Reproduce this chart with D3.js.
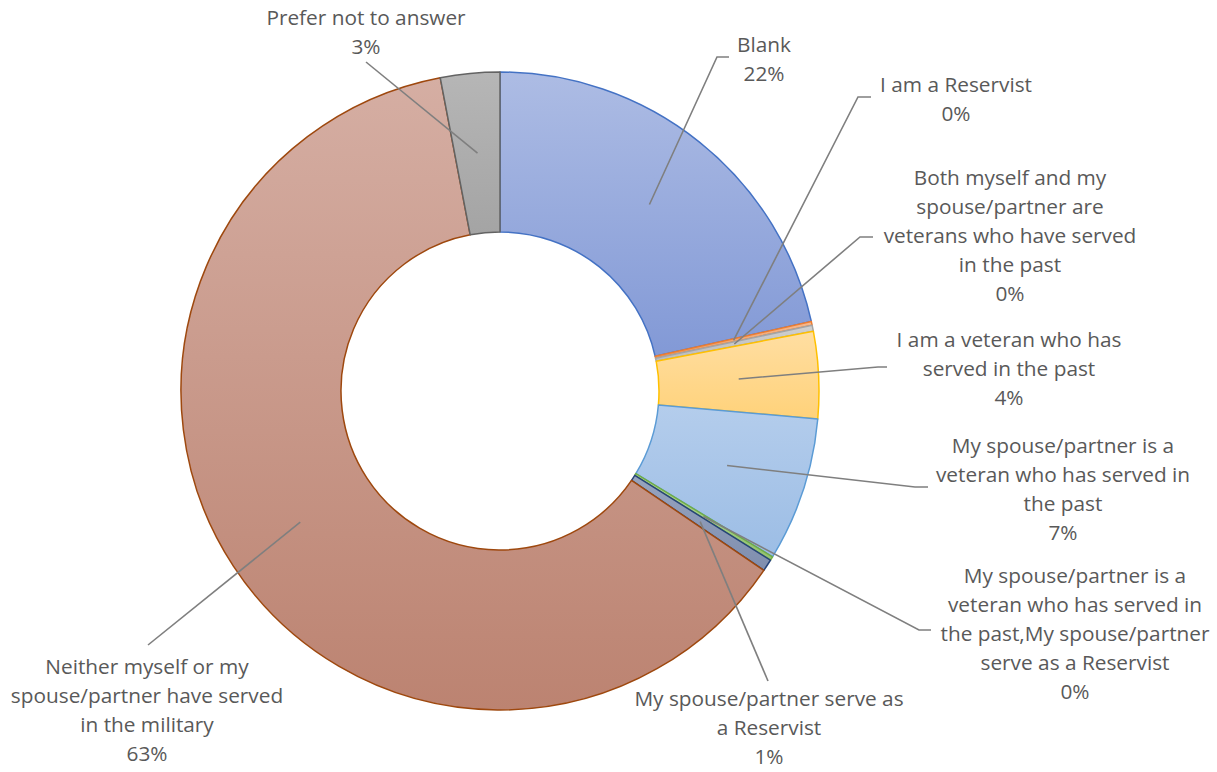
<!DOCTYPE html>
<html>
<head>
<meta charset="utf-8">
<script src="https://cdn.jsdelivr.net/npm/d3@7"></script>
<style>
  body { margin: 0; background: #fff; }
  svg { display: block; }
  text { font-family: "Open Sans", sans-serif; fill: #595959; }
</style>
</head>
<body>
<svg width="1217" height="772"></svg>
<script>
// categories in drawing order, clockwise from 12 o'clock
var categories = [
  "Blank",
  "I am a Reservist",
  "Both myself and my spouse/partner are veterans who have served in the past",
  "I am a veteran who has served in the past",
  "My spouse/partner is a veteran who has served in the past",
  "My spouse/partner is a veteran who has served in the past,My spouse/partner serve as a Reservist",
  "My spouse/partner serve as a Reservist",
  "Neither myself or my spouse/partner have served in the military",
  "Prefer not to answer"
];
// share of responses (percent)
var values = [21.5, 0.2, 0.3, 4.4, 7.3, 0.2, 0.6, 62.5, 3.0];

// label text broken the way the original wraps it
var labelLines = [
  ["Blank"],
  ["I am a Reservist"],
  ["Both myself and my", "spouse/partner are", "veterans who have served", "in the past"],
  ["I am a veteran who has", "served in the past"],
  ["My spouse/partner is a", "veteran who has served in", "the past"],
  ["My spouse/partner is a", "veteran who has served in", "the past,My spouse/partner", "serve as a Reservist"],
  ["My spouse/partner serve as", "a Reservist"],
  ["Neither myself or my", "spouse/partner have served", "in the military"],
  ["Prefer not to answer"]
];

// office palette: border colour, light fill, dark fill
var strokes = ["#4472c4", "#ed7d31", "#a5a5a5", "#ffc000", "#5b9bd5", "#70ad47", "#264478", "#9e480e", "#636363"];
var fillTop = ["#adbce4", "#f6b98f", "#d0d0d0", "#ffdea2", "#b4cdec", "#b3d69b", "#97a4bf", "#d5aea3", "#b6b6b6"];
var fillBot = ["#8299d6", "#ee9656", "#bcbcbc", "#ffd27a", "#9cbde5", "#93c26f", "#7f8eae", "#bc8371", "#a4a4a4"];

var svg = d3.select("svg");
var cx = 500, cy = 391, rOuter = 319, rInner = 159;

// label placement: x centre, first baseline, leader elbow, leader end
var labelPos = [
  { x: 764, y: 52, elbow: [717, 57], end: [729, 57] },
  { x: 956, y: 92, elbow: [858, 97], end: [871, 97] },
  { x: 1010, y: 185, elbow: [860, 237], end: [873, 237] },
  { x: 1009, y: 347, elbow: [878, 367], end: [887, 367] },
  { x: 1063, y: 453, elbow: [915, 487], end: [928, 487] },
  { x: 1075, y: 583, elbow: [919, 630], end: [931, 630] },
  { x: 769, y: 706, elbow: [768, 681], end: [768, 681] },
  { x: 147, y: 674, elbow: [148, 645], end: [148, 645] },
  { x: 366, y: 25, elbow: [366, 62], end: [366, 62] }
];
var lineH = 29;

var total = d3.sum(values);
var pie = d3.pie().sort(null).value(function (d) { return d; })
  .startAngle(0).endAngle(2 * Math.PI);
var arcs = pie(values);

var arc = d3.arc().innerRadius(rInner).outerRadius(rOuter);
var midArc = d3.arc().innerRadius((rInner + rOuter) / 2).outerRadius((rInner + rOuter) / 2);

var defs = svg.append("defs");
var grad = defs.selectAll("linearGradient")
  .data(arcs).enter()
  .append("linearGradient")
  .attr("id", function (d, i) { return "g" + i; })
  .attr("x1", 0).attr("y1", 0).attr("x2", 0).attr("y2", 1);
grad.append("stop").attr("offset", "0%").attr("stop-color", function (d, i) { return fillTop[i]; });
grad.append("stop").attr("offset", "100%").attr("stop-color", function (d, i) { return fillBot[i]; });

var g = svg.append("g").attr("transform", "translate(" + cx + "," + cy + ")");

g.selectAll("path.slice")
  .data(arcs).enter()
  .append("path")
  .attr("class", "slice")
  .attr("d", arc)
  .attr("fill", function (d, i) { return "url(#g" + i + ")"; })
  .attr("stroke", function (d, i) { return strokes[i]; })
  .attr("stroke-width", 1.5)
  .attr("stroke-linejoin", "round");

// leader lines
svg.selectAll("polyline.leader")
  .data(arcs).enter()
  .append("polyline")
  .attr("class", "leader")
  .attr("points", function (d, i) {
    var c = midArc.centroid(d);
    var p = labelPos[i];
    return [[cx + c[0], cy + c[1]], p.elbow, p.end].map(function (q) { return q.join(","); }).join(" ");
  })
  .attr("fill", "none")
  .attr("stroke", "#7f7f7f")
  .attr("stroke-width", 1.6);

// labels
var fmt = d3.format(".0%");
var lab = svg.selectAll("text.lbl")
  .data(arcs).enter()
  .append("text")
  .attr("class", "lbl")
  .attr("text-anchor", "middle")
  .attr("font-size", 20.8)
  .attr("x", function (d, i) { return labelPos[i].x; })
  .attr("y", function (d, i) { return labelPos[i].y; });

lab.selectAll("tspan")
  .data(function (d, i) { return labelLines[i].concat([fmt(d.value / total)]); })
  .enter().append("tspan")
  .attr("x", function () { return d3.select(this.parentNode).attr("x"); })
  .attr("dy", function (d, j) { return j === 0 ? 0 : lineH; })
  .text(function (d) { return d; });
</script>
</body>
</html>
